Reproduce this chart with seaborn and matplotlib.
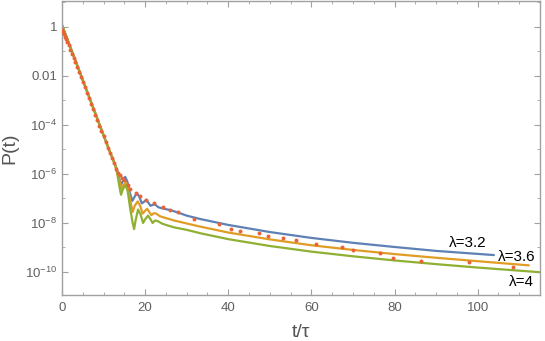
import numpy as np
import pandas as pd
import matplotlib
matplotlib.use("Agg")
import matplotlib.pyplot as plt
import matplotlib.ticker as mticker
import seaborn as sns

# ---------------- data ----------------
t_blue = [0, 2, 4, 6, 8, 10, 11.5, 12.5, 13.3, 13.8, 14.2, 14.6, 15.2, 15.7, 16.3, 16.9,
          17.4, 18.0, 18.6, 19.2, 19.7, 20.3, 20.8, 21.3, 21.8, 22.4, 23.2, 24.5, 26, 28,
          30, 33.3, 40, 50, 60, 70, 80, 90, 103.9]
log10p_blue = [0.08, -0.82, -1.72, -2.62, -3.52, -4.42, -5.09, -5.5, -5.85, -6.2, -6.45,
               -6.3, -6.12, -6.3, -6.75, -7.1, -6.95, -6.78, -6.93, -7.2, -7.14, -7.05,
               -7.18, -7.3, -7.26, -7.25, -7.36, -7.42, -7.47, -7.58, -7.70, -7.84, -8.08,
               -8.37, -8.61, -8.81, -8.98, -9.14, -9.31]

t_orange = [0, 2, 4, 6, 8, 10, 11.5, 12.5, 13.3, 13.8, 14.3, 14.8, 15.4, 15.9, 16.5, 17.0,
            17.5, 18.2, 18.8, 19.4, 19.9, 20.5, 21.0, 21.5, 22.1, 22.7, 23.5, 25, 27, 30,
            33.3, 40, 50, 60, 70, 80, 90, 100, 112.3]
log10p_orange = [0.08, -0.82, -1.72, -2.62, -3.52, -4.42, -5.09, -5.5, -5.9, -6.25, -6.6,
                 -6.45, -6.35, -6.6, -7.15, -7.55, -7.3, -7.12, -7.3, -7.62, -7.52, -7.42,
                 -7.55, -7.68, -7.6, -7.62, -7.72, -7.8, -7.9, -8.02, -8.15, -8.39, -8.67,
                 -8.91, -9.1, -9.27, -9.42, -9.56, -9.73]

t_green = [0, 2, 4, 6, 8, 10, 11.5, 12.8, 13.3, 13.8, 14.2, 14.7, 15.3, 15.8, 16.4, 17.0,
           17.35, 17.7, 18.3, 18.9, 19.5, 20.0, 20.7, 21.3, 21.8, 22.4, 23.0, 24, 25, 27,
           30, 33.3, 40, 50, 60, 70, 80, 90, 100, 115]
log10p_green = [0.08, -0.82, -1.72, -2.62, -3.52, -4.42, -5.09, -5.65, -6.0, -6.5, -6.85,
                -6.6, -6.45, -6.7, -7.4, -8.0, -8.25, -7.9, -7.45, -7.65, -8.0, -7.85, -7.7,
                -7.85, -8.0, -7.9, -7.92, -8.02, -8.08, -8.18, -8.28, -8.42, -8.66, -8.94,
                -9.17, -9.36, -9.53, -9.68, -9.82, -10.01]

t_dots = [0.1, 0.3, 0.5, 0.8, 1.0, 1.3, 1.6, 2.0, 2.4, 2.8, 3.2, 3.7, 4.1, 4.6, 5.0, 5.5,
          6.0, 6.5, 7.0, 7.5, 8.0, 8.5, 9.0, 9.5, 10.0, 10.5, 11.0, 11.5, 12.0, 12.5, 13.0,
          13.5, 14.0, 14.5, 15.0, 15.8, 16.4, 17.8, 18.8, 20.2, 22.2, 24.4, 26.0, 28.0,
          31.7, 37.7, 40.6, 42.8, 47.3, 49.6, 53.1, 56.4, 61.1, 67.3, 69.9, 76.6, 79.6,
          86.3, 98.0, 108.4]
log10p_dots = [-0.12, -0.2, -0.27, -0.4, -0.5, -0.6, -0.73, -0.95, -1.1, -1.25, -1.45,
               -1.65, -1.85, -2.05, -2.25, -2.45, -2.7, -2.9, -3.15, -3.35, -3.6, -3.8,
               -4.05, -4.25, -4.45, -4.7, -4.95, -5.15, -5.35, -5.55, -5.78, -5.95, -6.05,
               -6.15, -6.24, -6.45, -6.61, -6.76, -6.90, -7.06, -7.18, -7.33, -7.49, -7.57,
               -7.83, -8.04, -8.23, -8.31, -8.42, -8.55, -8.62, -8.69, -8.85, -9.0, -9.10,
               -9.21, -9.44, -9.56, -9.6, -9.8]

series_names = ["λ=3.2", "λ=3.6", "λ=4"]
series_colors = ["#5E81B5", "#E19C24", "#8FB032"]
dot_color = "#EB6235"
x_ticks = [0, 20, 40, 60, 80, 100]
y_ticks = [1, 1e-2, 1e-4, 1e-6, 1e-8, 1e-10]
y_tick_labels = ["1", "0.01", r"$10^{-4}$", r"$10^{-6}$", r"$10^{-8}$", r"$10^{-10}$"]

# ---------------- build frames ----------------
frames = []
for name, tt, lp in zip(series_names, [t_blue, t_orange, t_green],
                        [log10p_blue, log10p_orange, log10p_green]):
    frames.append(pd.DataFrame({"t": tt, "P": np.power(10.0, lp), "series": name}))
lines_df = pd.concat(frames, ignore_index=True)
dots_df = pd.DataFrame({"t": t_dots, "P": np.power(10.0, log10p_dots)})

# ---------------- style ----------------
sns.set_theme(style="white")
plt.rcParams["font.family"] = ["Liberation Sans", "DejaVu Sans"]
plt.rcParams["mathtext.fontset"] = "custom"
plt.rcParams["mathtext.rm"] = "Liberation Sans"
plt.rcParams["mathtext.it"] = "Liberation Sans:italic"
plt.rcParams["mathtext.bf"] = "Liberation Sans:bold"

fig = plt.figure(figsize=(5.45, 3.41), dpi=100)
ax = fig.add_axes([62 / 545, 46 / 341, (540 - 62) / 545, 294 / 341])

sns.lineplot(data=lines_df, x="t", y="P", hue="series", hue_order=series_names,
             palette=series_colors, sort=False, estimator=None, linewidth=1.6,
             legend=False, ax=ax)
sns.scatterplot(data=dots_df, x="t", y="P", color=dot_color, s=8, linewidth=0,
                legend=False, ax=ax, zorder=5)

ax.set_yscale("log")
ax.set_xlim(0, 115)
ax.set_ylim(10 ** -10.94, 10 ** 1.06)

frame_col = "#A0A0A0"
for sp in ax.spines.values():
    sp.set_color(frame_col)
    sp.set_linewidth(1.0)

ax.set_xticks(x_ticks)
ax.xaxis.set_minor_locator(mticker.MultipleLocator(5))
ax.set_yticks(y_ticks)
ax.set_yticklabels(y_tick_labels)
ax.yaxis.set_minor_locator(mticker.FixedLocator([10.0 ** k for k in range(-11, 2)]))
ax.yaxis.set_minor_formatter(mticker.NullFormatter())

ax.tick_params(axis="both", which="major", direction="in", length=4, width=0.8,
               color=frame_col, labelcolor="#606060", labelsize=9.5,
               top=True, right=True, bottom=True, left=True)
ax.tick_params(axis="both", which="minor", direction="in", length=2.5, width=0.6,
               color=frame_col, top=True, right=True, bottom=True, left=True)
ax.tick_params(axis="x", which="major", pad=5)

ax.set_xlabel("t/τ", fontsize=14, color="#555555", labelpad=7)
ax.set_ylabel("P(t)", fontsize=14, color="#555555", labelpad=5)

# curve labels
label_pos = [(97.6, 10 ** -8.82), (109.3, 10 ** -9.40), (110.5, 10 ** -10.4)]
for name, (lx, ly) in zip(series_names, label_pos):
    ax.text(lx, ly, name, fontsize=11, color="black", ha="center", va="center")

fig.savefig("out.png", dpi=100)
